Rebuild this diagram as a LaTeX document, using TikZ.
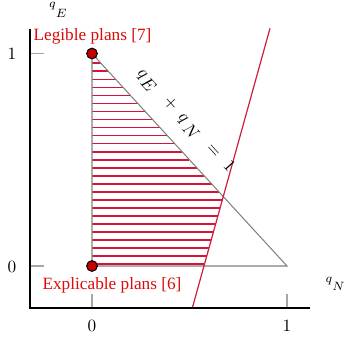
\documentclass[tikz,border=0pt]{standalone}
\usepackage{fontspec}
\newfontfamily\timesf{Liberation Serif}
\definecolor{hatchred}{RGB}{215,20,55}
\definecolor{linered}{RGB}{205,30,60}
\definecolor{lblred}{RGB}{220,10,10}
\definecolor{dotred}{RGB}{200,0,0}
\begin{document}
\begin{tikzpicture}[x=0.58pt,y=-0.58pt,
  axisline/.style={black,line width=0.75pt},
  tickline/.style={gray!70,line width=0.6pt},
  tri/.style={gray,line width=0.6pt},
  hatch/.style={hatchred,line width=1pt},
  dot/.style={circle,draw=black,fill=dotred,inner sep=0pt,minimum size=6.2pt,line width=0.6pt},
  plabel/.style={text=lblred,font=\timesf,anchor=base,inner sep=0pt},
  ticklbl/.style={inner sep=0pt}]
\useasboundingbox (0,0) rectangle (350,339);
\coordinate (O) at (30,308);
\coordinate (Ytop) at (30,28.5);
\coordinate (Xend) at (310,308);
\coordinate (A) at (92,53.5);
\coordinate (B) at (287,266);
\coordinate (C) at (92,266);
\coordinate (R1) at (192.3,308);
\coordinate (R2) at (270,28.3);
% hatching
\foreach \k in {0,...,25}{
  \pgfmathsetmacro\yy{63.3+8.03*\k}
  \pgfmathsetmacro\xx{min(92+0.917647*(\yy-53.5),192.3+0.277798*(308-\yy))}
  \draw[hatch] (92,\yy) -- (\xx,\yy);
}
% triangle
\draw[tri] (A) -- (B) -- (C) -- cycle;
% red line
\draw[linered,line width=0.7pt] (R1) -- (R2);
% ticks
\draw[tickline] (30,53.5) -- (44,53.5);
\draw[tickline] (30,266) -- (44,266);
\draw[tickline] (92,294) -- (92,308);
\draw[tickline] (287,294) -- (287,308);
% axes
\draw[axisline] (Ytop) -- (O) -- (Xend);
% tick labels
\node[ticklbl] (y1) at (12,54) {$1$};
\node[ticklbl] (y0) at (12,266.5) {$0$};
\node[ticklbl] (x0) at (92,326) {$0$};
\node[ticklbl] (x1) at (287,326) {$1$};
% axis labels
\node[ticklbl] (qE) at (58,10) {$\scriptstyle q\lower5.5pt\hbox{$\scriptstyle E$}$};
\node[ticklbl] (qN) at (335,284) {$\scriptstyle q\lower4.5pt\hbox{$\scriptstyle N$}$};
% dots
\node[dot] (dA) at (A) {};
\node[dot] (dC) at (C) {};
% plan labels
\node[plabel] (leg) at (92.5,40) {Legible plans [7]};
\node[plabel] (exp) at (112,289.7) {Explicable plans [6]};
% equation
\node[rotate=-47.5,inner sep=0pt] (eq) at (185,121) {$q\mkern1mu\lower3pt\hbox{$E$}\mkern12mu+\mkern5mu q\mkern3mu\lower3pt\hbox{$N$}\mkern10mu=\mkern7mu1$};
\end{tikzpicture}
\end{document}
